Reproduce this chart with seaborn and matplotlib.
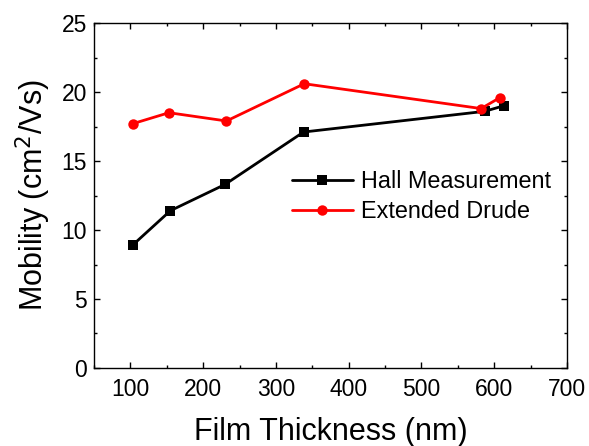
import matplotlib
matplotlib.use("Agg")
import matplotlib.pyplot as plt
from matplotlib.ticker import MultipleLocator
import seaborn as sns
import pandas as pd

hall_x = [103, 155, 230, 338, 587, 613]
hall_y = [8.9, 11.4, 13.3, 17.1, 18.6, 19.0]
drude_x = [103, 153, 232, 339, 582, 608]
drude_y = [17.7, 18.5, 17.9, 20.6, 18.8, 19.6]
series_names = ["Hall Measurement", "Extended Drude"]

df = pd.DataFrame({
    "x": hall_x + drude_x,
    "y": hall_y + drude_y,
    "series": [series_names[0]] * len(hall_x) + [series_names[1]] * len(drude_x),
})

sns.set_style("ticks")
plt.rcParams['font.family'] = ['Liberation Sans', 'DejaVu Sans']
plt.rcParams['text.color'] = 'black'
plt.rcParams['axes.labelcolor'] = 'black'
plt.rcParams['xtick.color'] = 'black'
plt.rcParams['ytick.color'] = 'black'

fig = plt.figure(figsize=(5.89, 4.46), dpi=100)
ax = fig.add_axes([0.1596, 0.1749, 0.8030, 0.7735])

sns.lineplot(data=df, x="x", y="y", hue="series", style="series",
             palette={series_names[0]: "black", series_names[1]: "#ff0000"},
             markers={series_names[0]: "s", series_names[1]: "o"},
             dashes=False, sort=False, linewidth=2.0, markersize=7.5,
             markeredgewidth=0, ax=ax)

ax.set_xlim(50, 700)
ax.set_ylim(0, 25)
ax.xaxis.set_major_locator(MultipleLocator(100))
ax.xaxis.set_minor_locator(MultipleLocator(50))
ax.yaxis.set_major_locator(MultipleLocator(5))
ax.yaxis.set_minor_locator(MultipleLocator(2.5))
ax.tick_params(which='both', direction='in', top=True, right=True, labelsize=16.5,
               width=1, color='black', labelcolor='black')
ax.tick_params(axis='x', which='major', pad=7)
ax.tick_params(axis='y', which='major', pad=5)
ax.tick_params(which='major', length=4.5)
ax.tick_params(which='minor', length=2.5)
for s in ax.spines.values():
    s.set_visible(True)
    s.set_linewidth(1.0)
    s.set_color('black')

ax.set_xlabel("Film Thickness (nm)", fontsize=22, labelpad=12, color='black')
ax.set_ylabel("Mobility (cm$^2$/Vs)", fontsize=22, labelpad=6, color='black')

leg = ax.legend(loc='center left', bbox_to_anchor=(0.4186, 0.497), frameon=False,
                fontsize=16.8, handlelength=2.6, handletextpad=0.35,
                borderaxespad=0, borderpad=0, labelspacing=0.3)
leg.set_title(None)
for t in leg.get_texts():
    t.set_color('black')

fig.savefig("out.png", dpi=100)
